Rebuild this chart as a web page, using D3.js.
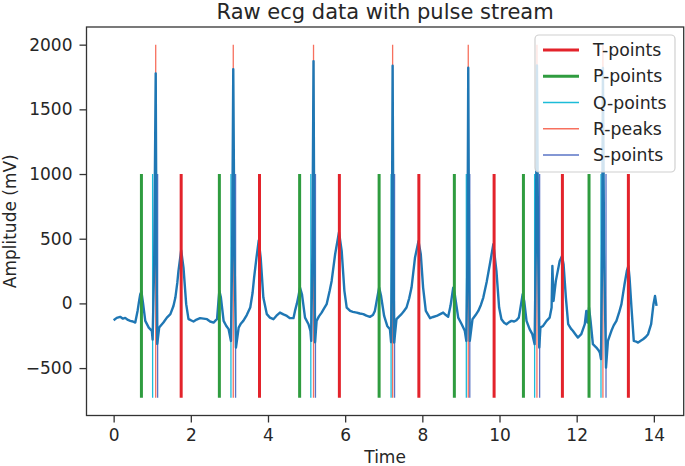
<!DOCTYPE html>
<html>
<head>
<meta charset="utf-8">
<script src="https://cdn.jsdelivr.net/npm/d3@7"></script>
<style>
  html, body { margin: 0; padding: 0; background: #fff; }
  svg text { font-family: "DejaVu Sans", sans-serif; fill: #262626; }
</style>
</head>
<body>
<svg id="chart" width="685" height="466"></svg>
<script>
// ---------------- data ----------------
const ecgTime = [
  0.00,0.08,0.17,0.24,0.30,0.37,0.43,0.50,0.56,0.62,0.66,0.69,0.72,0.76,0.82,0.91,0.99,1.01,1.05,1.09,1.11,1.13,
  1.18,1.24,1.29,1.38,1.47,1.55,1.60,1.65,1.68,1.75,1.81,1.88,1.94,2.00,2.07,2.15,2.24,2.33,2.42,2.50,2.59,2.65,
  2.68,2.72,2.74,2.78,2.85,2.92,2.98,3.04,3.07,3.10,3.13,3.17,3.24,3.30,3.36,3.45,3.54,3.60,3.64,3.70,3.76,3.81,
  3.88,3.97,4.05,4.14,4.22,4.31,4.40,4.49,4.57,4.66,4.70,4.75,4.79,4.83,4.88,4.96,5.05,5.10,5.12,5.15,5.18,5.20,
  5.22,5.26,5.32,5.39,5.45,5.52,5.60,5.65,5.74,5.84,5.91,5.98,6.04,6.13,6.20,6.30,6.38,6.47,6.55,6.64,6.72,6.77,
  6.84,6.88,6.93,7.01,7.09,7.16,7.19,7.21,7.23,7.25,7.27,7.33,7.40,7.46,7.52,7.59,7.66,7.72,7.81,7.90,7.96,8.02,
  8.09,8.20,8.28,8.37,8.45,8.54,8.61,8.67,8.73,8.80,8.84,8.93,9.02,9.10,9.14,9.17,9.19,9.21,9.23,9.30,9.38,9.45,
  9.52,9.58,9.67,9.75,9.84,9.92,9.99,10.05,10.12,10.18,10.25,10.31,10.38,10.44,10.50,10.53,10.60,10.64,10.70,10.78,
  10.85,10.91,10.94,10.97,11.00,11.03,11.06,11.13,11.22,11.30,11.35,11.37,11.40,11.46,11.56,11.62,11.66,11.72,11.78,
  11.85,11.90,11.97,12.03,12.12,12.21,12.25,12.28,12.32,12.36,12.42,12.51,12.56,12.60,12.63,12.66,12.68,12.71,12.76,
  12.81,12.90,12.96,13.03,13.10,13.16,13.24,13.30,13.34,13.37,13.42,13.48,13.54,13.59,13.65,13.72,13.79,13.85,13.93,
  13.99,14.03,14.07
];
const ecgAmp = [
  -130,-112,-104,-118,-112,-128,-135,-140,-148,-58,20,71,91,6,-135,-187,-212,-280,300,1778,400,-313,
  -187,-165,-148,-110,-83,-20,45,160,251,410,276,-6,-122,-130,-140,-125,-114,-118,-122,-140,-148,-130,
  -122,32,97,45,-135,-175,-199,-290,350,1811,420,-341,-187,-155,-135,-90,-32,80,199,350,486,354,
  45,-83,-110,-122,-95,-71,-85,-97,-114,-114,-58,0,58,122,71,-110,-161,-212,-290,380,1873,450,
  -300,-135,-100,-71,-40,-6,100,174,380,550,405,97,-32,-58,-65,-71,-78,-83,-95,-104,-90,-58,
  58,122,58,-97,-174,-199,-300,380,1837,450,-303,-122,-100,-83,-60,-32,40,122,354,480,380,122,
  -58,-114,-105,-97,-85,-71,-90,-104,-19,122,71,-110,-161,-212,-290,380,1821,450,-290,-122,-90,-58,
  -10,45,170,303,457,251,-32,-122,-150,-161,-145,-135,-140,-130,-110,-58,71,19,-135,-199,
  -238,-315,400,1840,450,-341,-187,-174,-135,-110,-32,290,19,174,328,367,303,45,-161,
  -195,-212,-240,-264,-238,-161,-58,-148,-32,-135,-315,-341,-360,-380,-431,400,1820,420,-496,
  -290,-212,-170,-135,-70,-6,148,251,290,199,-32,-290,-295,-303,-290,-277,-260,-238,-161,
  -6,58,-19
];
const tPoints = [1.75, 3.78, 5.85, 7.91, 9.86, 11.63, 13.34];
const pPoints = [0.72, 2.74, 4.82, 6.88, 8.83, 10.62, 12.32];
const qPoints = [1.01, 3.04, 5.11, 7.19, 9.14, 10.91, 12.63];
const rPeaks  = [1.09, 3.10, 5.18, 7.23, 9.19, 10.97, 12.68];
const sPoints = [1.14, 3.16, 5.23, 7.28, 9.23, 11.04, 12.76];
const lineBottom = -730, lineTopShort = 1000, lineTopTall = 2000;
const xTicks = [0, 2, 4, 6, 8, 10, 12, 14];
const yTicks = [-500, 0, 500, 1000, 1500, 2000];
const seriesNames = ["T-points", "P-points", "Q-points", "R-peaks", "S-points"];
const titleText = "Raw ecg data with pulse stream";
const xLabel = "Time", yLabel = "Amplitude (mV)";

// ---------------- layout ----------------
const svg = d3.select("#chart");
const L = 86.5, R = 683.7, T = 27, B = 415.5;

const xmin = d3.min(ecgTime), xmax = d3.max(ecgTime), xm = (xmax - xmin) * 0.05;
const ymin = lineBottom, ymax = lineTopTall, ym = (ymax - ymin) * 0.05;
const x = d3.scaleLinear().domain([xmin - xm, xmax + xm]).range([L, R]);
const y = d3.scaleLinear().domain([ymin - ym, ymax + ym]).range([B, T]);

const styles = {
  "T-points": { color: "#e3232b", width: 3 },
  "P-points": { color: "#2f9c3f", width: 3 },
  "Q-points": { color: "#1cbcd8", width: 1.3 },
  "R-peaks":  { color: "#f7705e", width: 1.3 },
  "S-points": { color: "#5a74c6", width: 1.3 }
};
const seriesData = {
  "T-points": { xs: tPoints, top: lineTopShort },
  "P-points": { xs: pPoints, top: lineTopShort },
  "Q-points": { xs: qPoints, top: lineTopShort },
  "R-peaks":  { xs: rPeaks,  top: lineTopTall },
  "S-points": { xs: sPoints, top: lineTopShort }
};

svg.append("clipPath").attr("id", "plotclip")
  .append("rect").attr("x", L).attr("y", T).attr("width", R - L).attr("height", B - T);
const plot = svg.append("g").attr("clip-path", "url(#plotclip)");

function drawVlines(name) {
  const s = styles[name], d = seriesData[name];
  plot.append("g").selectAll("line").data(d.xs).join("line")
    .attr("x1", v => x(v)).attr("x2", v => x(v))
    .attr("y1", y(lineBottom)).attr("y2", y(d.top))
    .attr("stroke", s.color).attr("stroke-width", s.width);
}

// QRS markers beneath the signal
["Q-points", "R-peaks", "S-points"].forEach(drawVlines);

// ECG line
const pts = ecgTime.map((t, i) => [t, ecgAmp[i]]);
plot.append("path")
  .attr("d", d3.line().x(d => x(d[0])).y(d => y(d[1]))(pts))
  .attr("fill", "none").attr("stroke", "#1f77b4").attr("stroke-width", 2.4)
  .attr("stroke-linejoin", "round");

// T and P markers on top
["T-points", "P-points"].forEach(drawVlines);

// axes
const xAxis = svg.append("g").attr("transform", `translate(0,${B})`)
  .call(d3.axisBottom(x).tickValues(xTicks).tickFormat(d3.format("d")).tickSize(7).tickPadding(6));
const yAxis = svg.append("g").attr("transform", `translate(${L},0)`)
  .call(d3.axisLeft(y).tickValues(yTicks).tickFormat(d => d < 0 ? "\u2212" + Math.abs(d) : d).tickSize(7).tickPadding(7));
[xAxis, yAxis].forEach(a => {
  a.select(".domain").remove();
  a.selectAll(".tick line").attr("stroke", "#333").attr("stroke-width", 1.3);
  a.selectAll(".tick text").attr("font-size", 17).attr("fill", "#262626")
    .style("font-family", "'DejaVu Sans', sans-serif");
});

// frame
svg.append("rect").attr("x", L).attr("y", T).attr("width", R - L).attr("height", B - T)
  .attr("fill", "none").attr("stroke", "#333").attr("stroke-width", 1.3);

// title and labels
svg.append("text").attr("x", (L + R) / 2).attr("y", 19).attr("text-anchor", "middle")
  .attr("font-size", 21).text(titleText);
svg.append("text").attr("x", (L + R) / 2).attr("y", 463).attr("text-anchor", "middle")
  .attr("font-size", 17).text(xLabel);
svg.append("text").attr("transform", `translate(16,${(T + B) / 2}) rotate(-90)`)
  .attr("text-anchor", "middle").attr("font-size", 17).text(yLabel);

// legend
const lg = svg.append("g");
lg.append("rect").attr("x", 535).attr("y", 35).attr("width", 140).attr("height", 137)
  .attr("rx", 4).attr("fill", "#fff").attr("fill-opacity", 0.8)
  .attr("stroke", "#d0d0d0").attr("stroke-width", 1.2);
seriesNames.forEach((name, i) => {
  const cy = 50 + i * 26.25, s = styles[name];
  lg.append("line").attr("x1", 543).attr("x2", 579).attr("y1", cy).attr("y2", cy)
    .attr("stroke", s.color).attr("stroke-width", s.width);
  lg.append("text").attr("x", 593).attr("y", cy + 6).attr("font-size", 17.3).text(name);
});
</script>
</body>
</html>
